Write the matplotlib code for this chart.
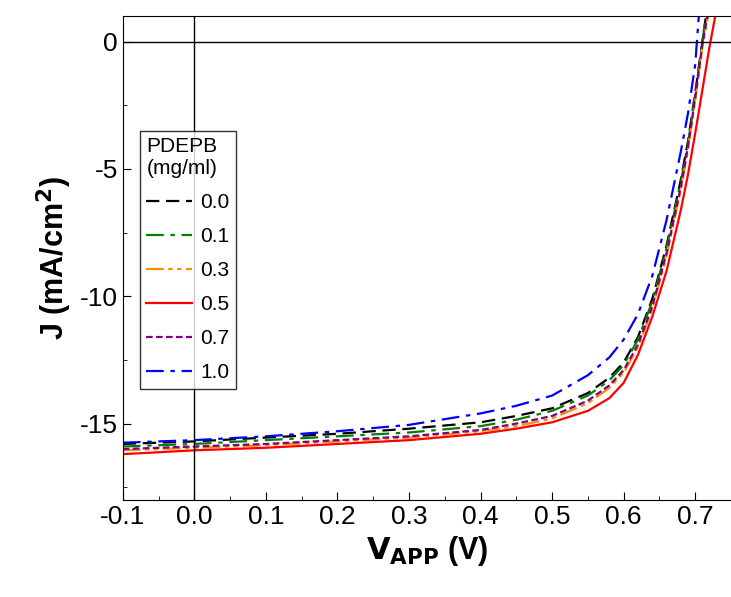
import numpy as np
import matplotlib.pyplot as plt
from matplotlib.ticker import MultipleLocator

plt.rcParams['font.family'] = ['Liberation Sans', 'DejaVu Sans']
plt.rcParams['axes.unicode_minus'] = False

# J-V data (V in volts, J in mA/cm2)
v_common = [-0.1, 0.0, 0.1, 0.2, 0.3, 0.4, 0.45, 0.5, 0.55, 0.58, 0.6, 0.62,
            0.64, 0.66, 0.68, 0.69, 0.70, 0.71]
j_00 = [-15.8, -15.7, -15.55, -15.4, -15.2, -14.95, -14.7, -14.4, -13.8, -13.2,
        -12.6, -11.6, -10.1, -8.0, -5.4, -3.9, -2.0, 0.0]
j_01 = [-15.9, -15.8, -15.65, -15.5, -15.35, -15.1, -14.85, -14.5, -13.9, -13.3,
        -12.7, -11.7, -10.2, -8.1, -5.5, -4.0, -2.1, 0.0]
j_03 = [-16.05, -15.95, -15.85, -15.7, -15.55, -15.3, -15.1, -14.8, -14.2, -13.6,
        -13.0, -12.0, -10.5, -8.4, -5.8, -4.2, -2.3, -0.2]
j_05 = [-16.2, -16.05, -15.95, -15.8, -15.65, -15.4, -15.2, -14.95, -14.5, -14.0,
        -13.4, -12.3, -10.8, -9.0, -6.6, -5.2, -3.6, -1.9]
j_07 = [-16.0, -15.9, -15.8, -15.65, -15.5, -15.25, -15.0, -14.7, -14.1, -13.5,
        -12.9, -11.9, -10.4, -8.3, -5.7, -4.1, -2.2, -0.1]
j_10 = [-15.75, -15.65, -15.5, -15.3, -15.05, -14.6, -14.3, -13.9, -13.1, -12.4,
        -11.7, -10.7, -9.2, -7.0, -4.3, -2.8, -0.9, 1.0]
v_10 = [-0.1, 0.0, 0.1, 0.2, 0.3, 0.4, 0.45, 0.5, 0.55, 0.58, 0.6, 0.62,
        0.64, 0.66, 0.68, 0.69, 0.70, 0.705]
# end points where each curve leaves the top of the plot
v_end = {"0.0": [0.715], "0.1": [0.715], "0.3": [0.718], "0.5": [0.72, 0.728],
         "0.7": [0.717], "1.0": []}
j_end = {"0.0": [1.0], "0.1": [1.0], "0.3": [1.0], "0.5": [-0.2, 1.0],
         "0.7": [1.0], "1.0": []}

series = [
    ("0.0", v_common, j_00, 'black', (0, (6, 3))),
    ("0.1", v_common, j_01, 'green', (0, (8, 3, 2, 3))),
    ("0.3", v_common, j_03, 'darkorange', (0, (8, 2, 2, 2, 2, 2))),
    ("0.5", v_common, j_05, 'red', '-'),
    ("0.7", v_common, j_07, 'purple', (0, (3, 1.5))),
    ("1.0", v_10, j_10, 'blue', (0, (8, 3, 2, 3))),
]

fig = plt.figure(figsize=(7.31, 5.97), dpi=100)
ax = fig.add_axes([0.168, 0.1625, 0.832, 0.8105])

for name, v, j, c, ls in series:
    vv = list(v) + v_end[name]
    jj = list(j) + j_end[name]
    ax.plot(vv, jj, color=c, linestyle=ls, lw=1.6, label=name)

ax.axhline(0, color='black', lw=1)
ax.axvline(0, color='black', lw=1)

ax.set_xlim(-0.1, 0.75)
ax.set_ylim(-18, 1)
ax.xaxis.set_minor_locator(MultipleLocator(0.05))
ax.yaxis.set_major_locator(MultipleLocator(5))
ax.yaxis.set_minor_locator(MultipleLocator(2.5))
ticks = np.arange(-0.1, 0.71, 0.1)
ax.set_xticks(ticks)
ax.set_xticklabels([f"{t:.1f}" for t in ticks])
ax.tick_params(which='both', direction='in', labelsize=19)
ax.tick_params(which='major', length=6)
ax.tick_params(which='minor', length=3)
ax.spines['right'].set_visible(False)

ax.set_xlabel(r"$\mathbf{V_{APP}}$ (V)", fontsize=22, fontweight='bold')
ax.set_ylabel(r"J (mA/cm$^\mathbf{2}$)", fontsize=22, fontweight='bold')

leg = ax.legend(title="PDEPB\n(mg/ml)", loc='upper left', bbox_to_anchor=(0.018, 0.775),
                fontsize=15, title_fontsize=15, frameon=True, fancybox=False,
                edgecolor='black', handlelength=2.2, handletextpad=0.4,
                labelspacing=0.72, borderaxespad=0.3, borderpad=0.3)
leg._legend_box.align = 'left'
leg.get_frame().set_linewidth(1)

fig.savefig("out.png", dpi=100)
